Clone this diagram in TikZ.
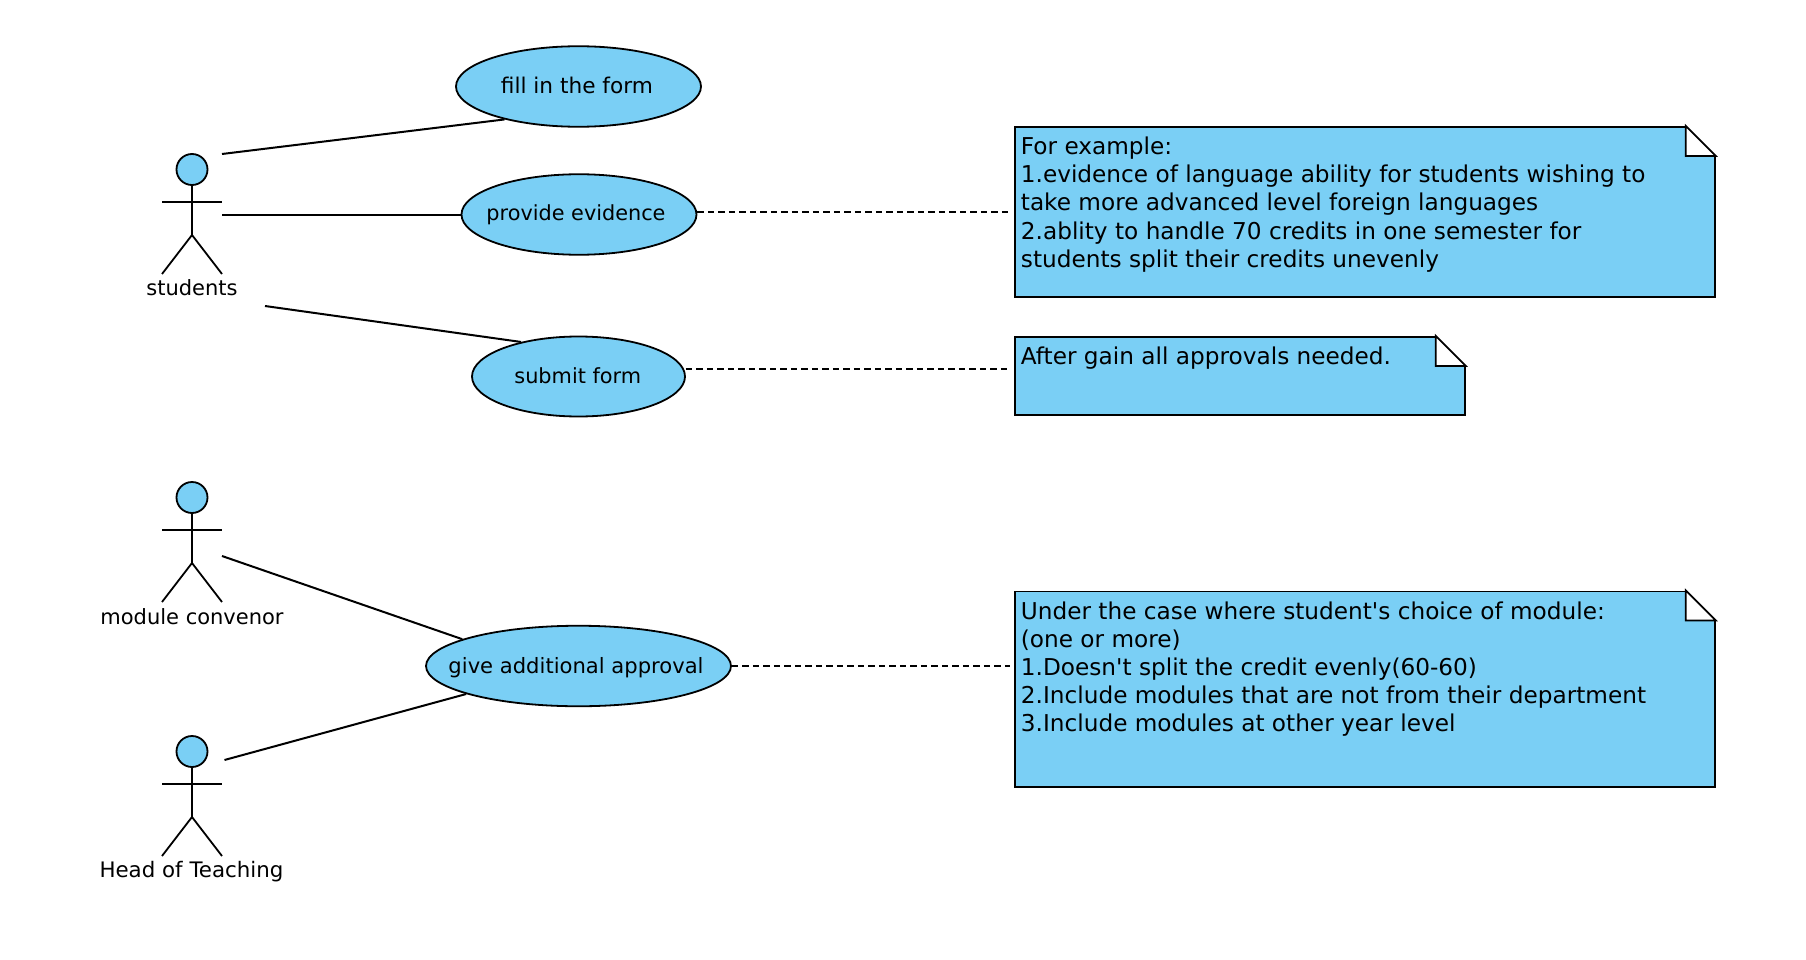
\documentclass[tikz,border=0pt]{standalone}
\usepackage{fontspec}
\setmainfont{DejaVu Sans}[Ligatures=TeXOff]
\usetikzlibrary{shapes.geometric,calc}
\definecolor{skyfill}{RGB}{122,207,245}
\newlength{\notelead}\setlength{\notelead}{28.2pt}
\newcommand{\notebody}[3]{\parbox[c][#2pt][t]{#1pt}{\leftskip=6pt\rightskip=0pt plus 1fil\parindent=0pt\baselineskip=\notelead\lineskip=0pt\vspace*{10pt}#3\par}}
\newcommand{\foldcorner}[1]{%
  \fill[white] ($(#1.north east)+(-30,-2)$) rectangle ($(#1.north east)+(2,30)$);
  \draw[edge,line join=miter,fill=white] ($(#1.north east)+(-30,0)$) -- ($(#1.north east)+(-30,30)$) -- ($(#1.north east)+(0,30)$) -- cycle;}
% text of a use case: #1 = shift to the right, #2 = baseline below the centre, #3 = text
\newcommand{\ctext}[3]{\raisebox{-#2pt}[0pt][0pt]{\makebox[0pt][c]{\hspace*{#1pt}#3}}}
\newcommand{\sizedfont}[1]{\fontsize{#1}{25}\selectfont}
\tikzset{
  x=1pt,y=-1pt,
  edge/.style={draw=black,line width=1.8pt},
  usecase/.style={ellipse,draw=black,fill=skyfill,line width=1.8pt,inner sep=0pt},
  notebox/.style={rectangle,draw=black,fill=skyfill,line width=1.8pt,inner sep=0pt,anchor=north west,font=\sizedfont{23.2}},
  actorlabel/.style={inner sep=0pt,font=\sizedfont{21}},
  actorhead/.style={circle,draw=black,fill=skyfill,line width=1.8pt,inner sep=0pt,minimum size=31pt},
  depend/.style={draw=black,line width=1.9pt,dash pattern=on 6.5pt off 4pt},
  assoc/.style={draw=black,line width=2pt},
  pics/actorfig/.style={code={
    \node[actorhead] (-head) at (0,0) {};
    \coordinate (-hip) at (0,65.5);
    \coordinate (-la) at (-30,32.5);
    \coordinate (-ra) at (30,32.5);
    \coordinate (-lf) at (-30,104.5);
    \coordinate (-rf) at (30,104.5);
    \draw[edge] (-head) -- (-hip);
    \draw[edge] (-la) -- (-ra);
    \draw[edge] (-lf) -- (-hip) -- (-rf);
  }}
}
\begin{document}
\begin{tikzpicture}
\useasboundingbox (0,0) rectangle (1806,960);
% actors
\pic (st) at (192,169.5) {actorfig};
\pic (mc) at (192,497.5) {actorfig};
\pic (ht) at (192,751.5) {actorfig};
\node[actorlabel] (stl) at (192,288) {students};
\node[actorlabel] (mcl) at (192,616.5) {module convenor};
\node[actorlabel,font=\sizedfont{21.35}] (htl) at (191.5,871.5) {Head of Teaching};
% use cases
\node[usecase,minimum width=245pt,minimum height=80.5pt,font=\sizedfont{21.65}] (fill) at (578.5,86.5) {\ctext{-3.2}{6.8}{fill in the form}};
\node[usecase,minimum width=235pt,minimum height=80.5pt,font=\sizedfont{20.8}] (prov) at (579,214.5) {\ctext{-6}{6.5}{provide evidence}};
\node[usecase,minimum width=213pt,minimum height=80pt,font=\sizedfont{20.85}] (sub) at (578.5,376.5) {\ctext{-1.4}{6.8}{submit form}};
\node[usecase,minimum width=305pt,minimum height=80.5pt,font=\sizedfont{21.1}] (give) at (578.5,666) {\ctext{-5}{7.3}{give additional approval}};
% notes
\node[notebox] (n1) at (1014,126) {\notebody{700}{170}{For example:\\1.evidence of language ability for students wishing to\\take more advanced level foreign languages\\2.ablity to handle 70 credits in one semester for\\students split their credits unevenly}};
\node[notebox] (n2) at (1014,336) {\notebody{450}{78}{After gain all approvals needed.}};
\node[notebox] (n3) at (1014,590.5) {\notebody{700}{195.5}{Under the case where student's choice of module:\\(one or more)\\1.Doesn't split the credit evenly(60-60)\\2.Include modules that are not from their department\\3.Include modules at other year level}};
\foldcorner{n1}
\foldcorner{n2}
\foldcorner{n3}
% free ends of the connectors
\coordinate (a1) at (222,154);
\coordinate (a2) at (222,214.5);
\coordinate (a3) at (265,306);
\coordinate (a4) at (222,556);
\coordinate (a5) at (224.5,760);
% associations
\draw[assoc] (a1) -- (fill.204);
\draw[assoc] (a2) -- (prov.west);
\draw[assoc] (a3) -- (sub.149.5);
\draw[assoc] (a4) -- (give.167.6);
\draw[assoc] (a5) -- (give.194.4);
% dependencies
\draw[depend,shorten >=4pt] (prov.east |- n1.west) -- (n1.west);
\draw[depend,shorten >=4pt] (sub.east |- 0,369) -- (n2.west |- 0,369);
\draw[depend,shorten >=4pt] (give.east) -- (n3.west |- give.east);
\end{tikzpicture}
\end{document}
